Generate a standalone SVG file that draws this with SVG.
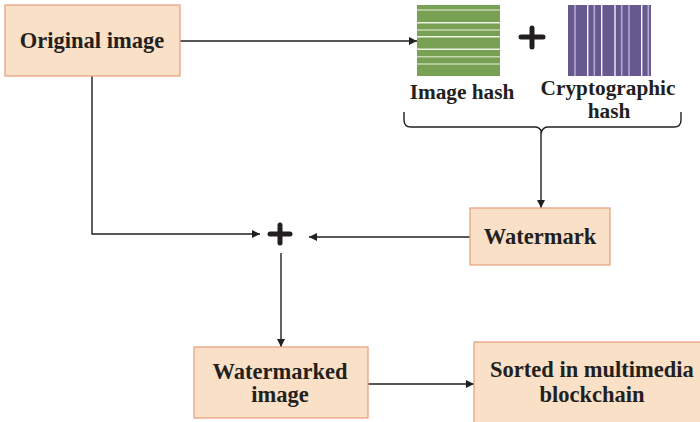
<svg xmlns="http://www.w3.org/2000/svg" width="700" height="422" viewBox="0 0 700 422">
  <style>
    .box { fill: #f9e0c6; stroke: #e8a385; stroke-width: 1.3; }
    .lbl { font-family: "Liberation Serif", "Times New Roman", serif; font-weight: bold; font-size: 22.5px; fill: #231f20; text-anchor: middle; }
    .sm { font-size: 21.3px; }
    .wire { fill: none; stroke: #231f20; stroke-width: 1.4; }
    .plus { stroke: #231f20; stroke-width: 5; stroke-linecap: round; }
    .gs { stroke: #eef3e6; stroke-width: 1.4; }
    .gs2 { stroke: #c6d9b2; stroke-width: 1.4; }
    .ps { stroke: #f4f1fa; stroke-width: 1.4; }
    .ps2 { stroke: #b4a9d0; stroke-width: 1.6; }
  </style>
  <defs>
    <marker id="arrow" viewBox="0 0 10 10" refX="10" refY="5" markerWidth="8" markerHeight="8" markerUnits="userSpaceOnUse" orient="auto">
      <path d="M0,0 L10,5 L0,10 z" fill="#231f20"/>
    </marker>
  </defs>

  <!-- connectors -->
  <g id="connectors">
    <line class="wire" x1="180" y1="41" x2="417" y2="41" marker-end="url(#arrow)"/>
    <path class="wire" d="M92,76 V234 H260" marker-end="url(#arrow)"/>
    <path class="wire" d="M404,112 v8 q0,7 7,7 h124 q5,0 6.5,5 q1.5,-5 6.5,-5 h126 q7,0 7,-7 v-8"/>
    <line class="wire" x1="541" y1="132" x2="541" y2="208" marker-end="url(#arrow)"/>
    <line class="wire" x1="470" y1="237" x2="309" y2="237" marker-end="url(#arrow)"/>
    <line class="wire" x1="281" y1="253" x2="281" y2="347" marker-end="url(#arrow)"/>
    <line class="wire" x1="368" y1="384" x2="474" y2="384" marker-end="url(#arrow)"/>
  </g>

  <g id="original">
    <rect class="box" x="5" y="5" width="175" height="71"/>
    <text class="lbl" x="92" y="48">Original image</text>
  </g>

  <g id="image-hash">
    <rect x="417" y="5" width="83" height="71" fill="#78a154"/>
    <line class="gs2" x1="417" y1="10" x2="500" y2="10"/>
    <line class="gs" x1="417" y1="22.7" x2="500" y2="22.7"/>
    <line class="gs2" x1="417" y1="30" x2="500" y2="30"/>
    <line class="gs" x1="417" y1="36.7" x2="500" y2="36.7"/>
    <line class="gs" x1="417" y1="49.3" x2="500" y2="49.3"/>
    <line class="gs2" x1="417" y1="56.7" x2="500" y2="56.7"/>
    <line class="gs2" x1="417" y1="64" x2="500" y2="64"/>
    <text class="lbl sm" x="462" y="99">Image hash</text>
  </g>

  <g id="plus-top">
    <line class="plus" x1="521" y1="37" x2="543" y2="37"/>
    <line class="plus" x1="532" y1="28" x2="532" y2="47"/>
  </g>

  <g id="crypto-hash">
    <rect x="568" y="5" width="83" height="71" fill="#66598f"/>
    <line class="ps2" x1="575" y1="5" x2="575" y2="76"/>
    <line class="ps" x1="587.7" y1="5" x2="587.7" y2="76"/>
    <line class="ps2" x1="594.3" y1="5" x2="594.3" y2="76"/>
    <line class="ps" x1="601.7" y1="5" x2="601.7" y2="76"/>
    <line class="ps" x1="615" y1="5" x2="615" y2="76"/>
    <line class="ps2" x1="621.7" y1="5" x2="621.7" y2="76"/>
    <line class="ps2" x1="629" y1="5" x2="629" y2="76"/>
    <line class="ps" x1="641.7" y1="5" x2="641.7" y2="76"/>
    <line class="ps2" x1="648.3" y1="5" x2="648.3" y2="76"/>
    <text class="lbl sm" x="608" y="95">Cryptographic</text>
    <text class="lbl sm" x="609" y="118">hash</text>
  </g>

  <g id="watermark">
    <rect class="box" x="470" y="208" width="140" height="57"/>
    <text class="lbl" x="540" y="244">Watermark</text>
  </g>

  <g id="plus-mid">
    <line class="plus" x1="270" y1="234" x2="290" y2="234"/>
    <line class="plus" x1="280" y1="225" x2="280" y2="243"/>
  </g>

  <g id="watermarked">
    <rect class="box" x="194" y="347" width="174" height="71"/>
    <text class="lbl" x="280" y="379">Watermarked</text>
    <text class="lbl" x="280" y="402">image</text>
  </g>

  <g id="blockchain">
    <rect class="box" x="474" y="342" width="230" height="84"/>
    <text class="lbl" x="592" y="377">Sorted in multimedia</text>
    <text class="lbl" x="592" y="402">blockchain</text>
  </g>
</svg>
